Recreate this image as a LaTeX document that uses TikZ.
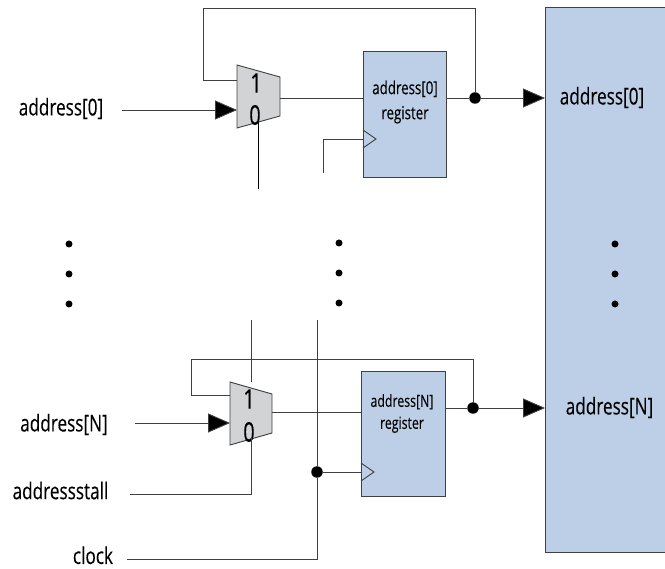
\documentclass[tikz,border=0pt]{standalone}
\usepackage{fontspec}
\setmainfont[FakeStretch=0.74,FakeBold=0.15]{Open Sans}
\usetikzlibrary{arrows.meta}
\definecolor{regblue}{HTML}{BDCFE6}
\definecolor{muxgray}{HTML}{D1D3D4}
\definecolor{wire}{HTML}{404040}
\tikzset{
  x=1pt,y=-1pt,
  wireline/.style={draw=wire,line width=0.9pt},
  flow/.style={wireline,-{Triangle[length=22pt,width=19pt,fill=black]}},
  regbox/.style={draw=wire,fill=regblue,line width=1pt,anchor=north west,inner sep=0pt,outer sep=0pt},
  muxshape/.style={draw=wire,fill=muxgray,line width=0.9pt},
  dotmark/.style={circle,fill=black,inner sep=0pt,minimum size=7pt},
  joint/.style={circle,fill=black,inner sep=0pt,minimum size=11.5pt},
  lab/.style={font=\fontsize{23.2}{25}\selectfont,text=black,inner sep=0pt},
  reglab/.style={font=\fontsize{18}{25}\selectfont,text=black,inner sep=0pt,align=center},
  digit/.style={font=\fontsize{27}{26}\selectfont,text=black,inner sep=0pt},
}
\begin{document}
\begin{tikzpicture}
\useasboundingbox (0,0) rectangle (665,569);
% output block
\node[regbox,minimum width=120pt,minimum height=545pt] (out) at (545,8) {};
\node[lab] (outa) at (602,97.5) {address[0]};
\node[lab] (outn) at (609.5,407.5) {address[N]};
% top register
\node[regbox,minimum width=83pt,minimum height=126pt] (reg0) at (363,52) {};
\node[reglab] (reg0t) at (405,102) {address[0]\\register};
\draw[wireline] (363,130) -- (376,139) -- (363,148);
% bottom register
\node[regbox,minimum width=84pt,minimum height=125pt] (regn) at (361,372) {};
\node[reglab,font=\fontsize{16.7}{22}\selectfont] (regnt) at (402,413.5) {address[N]\\register};
\draw[wireline] (361,463) -- (374,472) -- (361,481);
% top mux
\coordinate (m0a) at (237,65);
\coordinate (m0b) at (280,77);
\coordinate (m0c) at (280,116);
\coordinate (m0d) at (237,128);
\coordinate (m0fb) at (237,80);
\coordinate (m0in) at (237,110);
\coordinate (m0out) at (280,98);
\coordinate (m0sel) at (258,122);
\coordinate (m0selend) at (258,189);
\draw[muxshape] (m0a) -- (m0b) -- (m0c) -- (m0d) -- cycle;
\node[digit] (m0one) at (256,83) {1};
\node[digit] (m0zero) at (255,115) {0};
% bottom mux
\coordinate (mna) at (230,382);
\coordinate (mnb) at (272,394);
\coordinate (mnc) at (272,433);
\coordinate (mnd) at (230,445);
\coordinate (mnfb) at (230,395);
\coordinate (mnin) at (230,423);
\coordinate (mnout) at (272,412);
\coordinate (mnsel) at (251,438);
\draw[muxshape] (mna) -- (mnb) -- (mnc) -- (mnd) -- cycle;
\node[digit] (mnone) at (249,399) {1};
\node[digit] (mnzero) at (249,432) {0};
% left labels
\node[lab] (ina) at (61,108.5) {address[0]};
\coordinate (inastart) at (122,110);
\node[lab] (inn) at (64,424.5) {address[N]};
\coordinate (innstart) at (135,423);
\node[lab] (stall) at (60.5,490.5) {addressstall};
\coordinate (stallstart) at (130,494);
\node[lab,anchor=base] (clk) at (93,564) {clock};
\coordinate (clkstart) at (127,559);
% top wiring
\node[joint] (j0) at (475,98) {};
\draw[flow] (inastart) -- (m0in);
\draw[wireline] (m0out) -- (reg0.west |- m0out);
\draw[wireline] (reg0.east |- j0) -- (j0);
\draw[flow] (j0) -- (out.west |- j0);
\draw[wireline] (j0) -- (475,8) -- (203,8) -- (203,80) -- (m0fb);
\draw[wireline,draw=black] (m0sel) -- (m0selend);
\coordinate (ck0a) at (323,173);
\draw[wireline] (ck0a) -- (323,139) -- (363,139);
% bottom wiring
\node[joint] (jn) at (473,408) {};
\node[joint] (jc) at (317,472) {};
\coordinate (selntop) at (251,320);
\coordinate (clktop) at (317,320);
\draw[flow] (innstart) -- (mnin);
\draw[wireline] (mnout) -- (regn.west |- mnout);
\draw[wireline] (regn.east |- jn) -- (jn);
\draw[flow] (jn) -- (out.west |- jn);
\draw[wireline] (jn) -- (473,359) -- (191,359) -- (191,395) -- (mnfb);
\draw[wireline] (selntop) -- (251,382);
\draw[wireline] (mnsel) -- (251,494) -- (stallstart);
\draw[wireline] (clktop) -- (jc);
\draw[wireline] (jc) -- (317,559) -- (clkstart);
\draw[wireline] (jc) -- (regn.west |- jc);
% ellipsis dots
\foreach \n/\px/\py in {a/69/244,b/69/274,c/69/304,d/339/243,e/339/273,f/339/303,g/615/244,h/615/274,i/615/304}
  \node[dotmark] (dot\n) at (\px,\py) {};
\end{tikzpicture}
\end{document}
